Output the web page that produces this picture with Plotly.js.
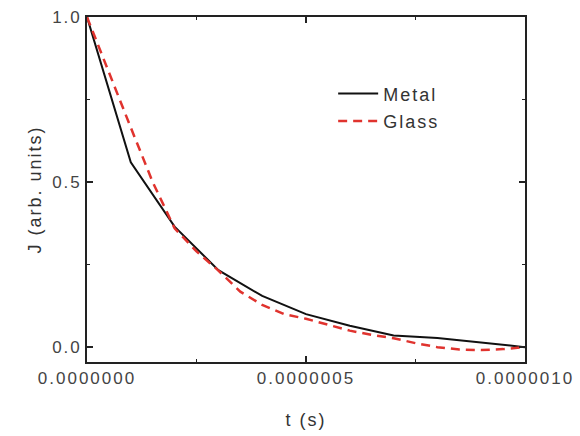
<!DOCTYPE html>
<html>
<head>
<meta charset="utf-8">
<script src="https://cdn.plot.ly/plotly-3.0.1.min.js"></script>
<style>
html,body{margin:0;padding:0;background:#fff;}
#chart{width:580px;height:436px;}
svg text{letter-spacing:2px;}
</style>
</head>
<body>
<div id="chart"></div>
<script>
// Metal series (t in seconds, J in arb. units)
var metalT = [0, 1e-7, 2e-7, 3e-7, 4e-7, 5e-7, 6e-7, 7e-7, 8e-7, 9e-7, 1e-6];
var metalJ = [1.0, 0.56, 0.365, 0.233, 0.155, 0.10, 0.065, 0.035, 0.028, 0.015, 0.0];

// Glass series
var glassT = [0, 0.5e-7, 1e-7, 1.5e-7, 2e-7, 2.5e-7, 3e-7, 3.5e-7, 4e-7, 4.5e-7, 5e-7,
              5.5e-7, 6e-7, 6.5e-7, 7e-7, 7.5e-7, 8e-7, 8.5e-7, 9e-7, 9.5e-7, 1e-6];
var glassJ = [1.0, 0.83, 0.665, 0.50, 0.36, 0.29, 0.232, 0.168, 0.128, 0.10, 0.086,
              0.068, 0.05, 0.037, 0.027, 0.012, 0.0, -0.007, -0.009, -0.006, 0.0];

var seriesNames = ["Metal", "Glass"];
var xTitle = "t (s)";
var yTitle = "J (arb. units)";

var font = "Liberation Sans, Arial, sans-serif";

var traces = [
  {x: metalT, y: metalJ, mode: "lines", name: seriesNames[0], legendgroup: "a",
   line: {color: "#111111", width: 2}},
  {x: glassT, y: glassJ, mode: "lines", name: seriesNames[1], legendgroup: "b",
   line: {color: "#e0332e", width: 2.5, dash: "9px,6px"}}
];

var axisCommon = {
  showline: true, linecolor: "#222", linewidth: 1.8, mirror: "ticks",
  ticks: "inside", ticklen: 6, tickwidth: 1.5, tickcolor: "#222",
  showgrid: false, zeroline: false,
  tickfont: {family: font, size: 17, color: "#444"}
};

var layout = {
  width: 580, height: 436,
  margin: {l: 87, r: 55, t: 17, b: 74},
  paper_bgcolor: "#fff", plot_bgcolor: "#fff",
  showlegend: true,
  legend: {x: 0.562, y: 0.831, xanchor: "left", yanchor: "top",
           bgcolor: "rgba(0,0,0,0)", font: {family: font, size: 18, color: "#333"},
           tracegroupgap: 1, itemwidth: 40},
  xaxis: Object.assign({}, axisCommon, {
    range: [0, 1e-6], dtick: 5e-7, tick0: 0, tickformat: ".7f",
    minor: {dtick: 2.5e-7, ticks: "inside", ticklen: 3, tickcolor: "#222", showgrid: false},
    title: {text: xTitle, font: {family: font, size: 18, color: "#333"}, standoff: 26}
  }),
  yaxis: Object.assign({}, axisCommon, {
    range: [-0.045, 1.0], dtick: 0.5, tick0: 0, tickformat: ".1f",
    minor: {dtick: 0.25, ticks: "inside", ticklen: 3, tickcolor: "#222", showgrid: false},
    title: {text: yTitle, font: {family: font, size: 18, color: "#333"}, standoff: 6}
  })
};

Plotly.newPlot("chart", traces, layout, {displayModeBar: false, staticPlot: true});
</script>
</body>
</html>
